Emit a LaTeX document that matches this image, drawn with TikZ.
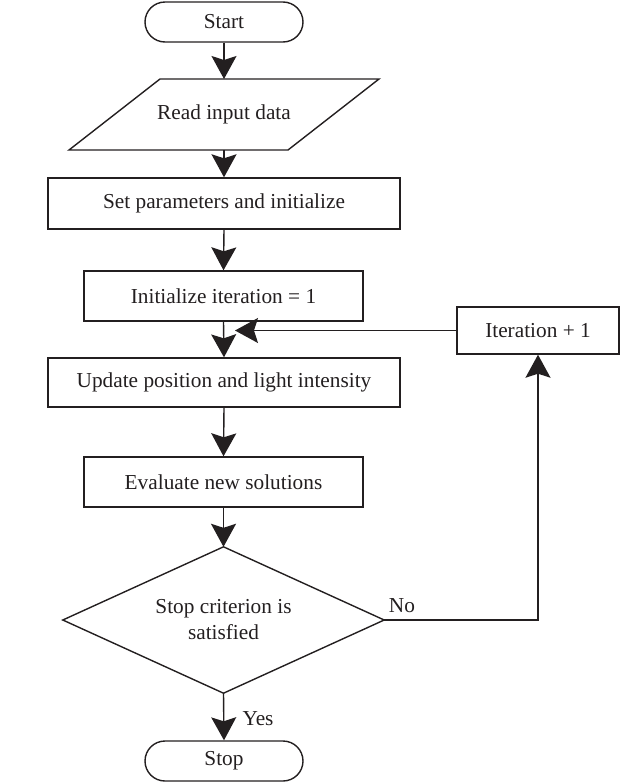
\documentclass[tikz,border=0pt]{standalone}
\usepackage{fontspec}
\setmainfont{Liberation Serif}
\usetikzlibrary{shapes.misc,arrows.meta}
\definecolor{ink}{HTML}{231F20}
\begin{document}
\begin{tikzpicture}[x=1pt,y=-1pt,
  every node/.style={font=\fontsize{21.3}{26}\selectfont, text=ink, inner sep=0pt},
  term/.style={draw=ink, line width=1.4pt, rounded rectangle, minimum width=158pt, minimum height=40pt},
  proc/.style={draw=ink, line width=1.4pt, rectangle, minimum height=50pt},
  ghost/.style={draw=none, rectangle},
  arr/.style={draw=ink, line width=1.4pt, -{Stealth[length=23pt,width=25pt,inset=4pt]}},
  edge/.style={draw=ink, line width=1.4pt}]
\useasboundingbox (0,0) rectangle (633,782);
\node[term] (start) at (224,22) {Start};
\node[ghost, minimum width=310pt, minimum height=71pt] (read) at (224,114.5) {Read input data};
\draw[edge] (160,79) -- (379,79) -- (288,150) -- (69,150) -- cycle;
\node[proc, minimum width=352pt, minimum height=51pt] (set) at (224,203.5) {Set parameters and initialize};
\node[proc, minimum width=279pt] (init) at (223.5,296) {Initialize iteration = 1};
\node[proc, minimum width=352pt, minimum height=49pt] (upd) at (224,382.5) {Update position and light intensity};
\node[proc, minimum width=279pt] (eval) at (223.5,482) {Evaluate new solutions};
\node[ghost, minimum width=321pt, minimum height=146pt, align=center] (dec) at (223.5,620) {Stop criterion is\\satisfied};
\draw[edge] (dec.north) -- (dec.east) -- (dec.south) -- (dec.west) -- cycle;
\node[proc, minimum width=162pt, minimum height=47pt] (iter) at (538,330.5) {Iteration + 1};
\node[term] (stop) at (224,761) {Stop};
\coordinate (merge) at (235,330.5);
\draw[arr] (start.south) -- (224,79);
\draw[arr] (224,150) -- (set.north);
\draw[arr] (set.south) -- (init.north);
\draw[arr] (init.south) -- (upd.north);
\draw[arr] (iter.west) -- (merge);
\draw[arr] (upd.south) -- (eval.north);
\draw[arr] (eval.south) -- (dec.north);
\draw[arr] (dec.east) -| (iter.south);
\draw[arr] (dec.south) -- (stop.north);
\node (no) at (402,606) {No};
\node (yes) at (258,719) {Yes};
\end{tikzpicture}
\end{document}
